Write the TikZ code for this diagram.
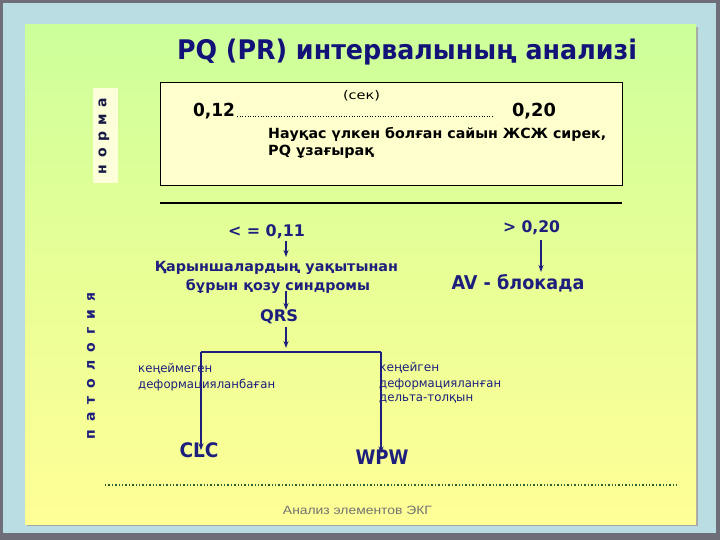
\documentclass[tikz,border=0pt]{standalone}
\usepackage{fontspec}
\usepackage{graphicx}
\setmainfont{DejaVu Sans}
\newfontfamily\arialfont{Liberation Sans}
\usetikzlibrary{arrows.meta}
\definecolor{navy}{RGB}{30,30,125}
\definecolor{titlenavy}{RGB}{18,18,120}
\definecolor{frameblue}{RGB}{186,221,228}
\definecolor{framegray}{RGB}{110,110,120}
\definecolor{greentop}{RGB}{204,255,155}
\definecolor{yellowbot}{RGB}{255,255,150}
\definecolor{boxyellow}{RGB}{255,255,206}
\definecolor{tagyellow}{RGB}{252,255,218}
\definecolor{footgreen}{RGB}{40,100,50}
\definecolor{footgray}{RGB}{115,115,115}
\newcommand\fitto[2]{\resizebox{#1}{\height}{#2}}
\newcommand\fsz[1]{\fontsize{#1}{#1}\selectfont}
\tikzset{
  txt/.style={inner sep=0pt, text=navy},
  blk/.style={inner sep=0pt, text=black},
  arr/.style={draw=navy, line width=1.6pt, -{Stealth[length=7pt,width=5pt]}},
  branch/.style={draw=navy, line width=1.6pt},
}
\begin{document}
\begin{tikzpicture}[x=1pt,y=-1pt]
\useasboundingbox (0,0) rectangle (720,540);
% outer frame
\fill[framegray] (0,0) rectangle (720,540);
\fill[frameblue] (3,3) rectangle (716,533);
\fill[gray!70] (27,27) rectangle (698,526);
\shade[top color=greentop, bottom color=yellowbot, middle color={rgb,255:red,232;green,255;blue,150}] (25,25) rectangle (696,524);

% title
\node[inner sep=0pt, text=titlenavy, font=\fsz{27}\bfseries] (title) at (407,52) {\fitto{460pt}{PQ (PR) интервалының анализі}};

% norma tag
\node[fill=tagyellow, minimum width=25pt, minimum height=95pt, inner sep=0pt] (normatag) at (105.5,135.5) {};
\node[rotate=90, inner sep=0pt, text={rgb,255:red,25;green,25;blue,70}, font=\fsz{14}\bfseries] (norma) at (104,136) {н\hspace{6.5pt}о\hspace{6.5pt}р\hspace{6.5pt}м\hspace{6.5pt}а};

% norma box
\node[draw=black, line width=0.8pt, fill=boxyellow, minimum width=462pt, minimum height=103pt, inner sep=0pt] (normbox) at (391,133.5) {};
\node[blk, font=\fsz{12}] (sek) at (361.5,96) {\fitto{37pt}{(сек)}};
\node[blk, font=\fsz{18}\bfseries] (v012) at (214,111) {\fitto{42pt}{0,12}};
\node[blk, font=\fsz{18}\bfseries] (v020) at (534,111) {\fitto{44pt}{0,20}};
\draw[black, dotted, line width=0.6pt] ([xshift=2pt,yshift=-5pt]v012.east) -- ([xshift=-19pt,yshift=-5pt]v020.west);
\node[blk, font=\fsz{14}\bfseries, anchor=west] (nauk1) at (268,134) {\fitto{338pt}{Науқас үлкен болған сайын ЖСЖ сирек,}};
\node[blk, font=\fsz{14}\bfseries, anchor=west] (nauk2) at (268,152) {\fitto{106pt}{PQ ұзағырақ}};

% separator
\draw[black, line width=2pt] (160,203) -- (622,203);

% patologia
\node[rotate=90, inner sep=0pt, text=navy, font=\fsz{14}\bfseries] (patol) at (91,366) {п\hspace{8pt}а\hspace{8pt}т\hspace{8pt}о\hspace{8pt}л\hspace{8pt}о\hspace{8pt}г\hspace{8pt}и\hspace{8pt}я};

% left chain
\node[txt, font=\fsz{16}\bfseries] (le011) at (266.5,232) {\fitto{77pt}{< = 0,11}};
\node[txt, font=\fsz{14}\bfseries] (qar1) at (276.5,268) {\fitto{243pt}{Қарыншалардың уақытынан}};
\node[txt, font=\fsz{14}\bfseries] (qar2) at (278,286) {\fitto{184pt}{бұрын қозу синдромы}};
\node[txt, font=\fsz{16}\bfseries] (qrs) at (279,317) {\fitto{38pt}{QRS}};

\coordinate (a1s) at (286,241);
\coordinate (a1e) at (286,257);
\coordinate (a2s) at (286,291);
\coordinate (a2e) at (286,310);
\coordinate (a3s) at (286,327);
\coordinate (a3e) at (286,348);
\draw[arr] (a1s) -- (a1e);
\draw[arr] (a2s) -- (a2e);
\draw[arr] (a3s) -- (a3e);

% right chain
\node[txt, font=\fsz{16}\bfseries] (gt020) at (531.5,228) {\fitto{57pt}{> 0,20}};
\node[txt, font=\fsz{19}\bfseries] (avb) at (518,283) {\fitto{133pt}{AV - блокада}};
\coordinate (a4s) at (541,240);
\coordinate (a4e) at (541,272);
\draw[arr] (a4s) -- (a4e);

% branches
\coordinate (bl) at (201,352);
\coordinate (br) at (381,352);
\draw[branch] (bl) -- (br);
\node[txt, font=\fsz{12}, anchor=west] (ken1) at (138,369) {\fitto{74pt}{кеңеймеген}};
\node[txt, font=\fsz{12}, anchor=west] (def1) at (138,385) {\fitto{137pt}{деформацияланбаған}};
\node[txt, font=\fsz{12}, anchor=west] (ken2) at (379,368) {\fitto{60pt}{кеңейген}};
\node[txt, font=\fsz{12}, anchor=west] (def2) at (379,384) {\fitto{122pt}{деформацияланған}};
\node[txt, font=\fsz{12}, anchor=west] (del2) at (379,399) {\fitto{94pt}{дельта-толқын}};
\node[txt, font=\fsz{20}\bfseries] (clc) at (199,450) {\fitto{39pt}{CLC}};
\node[txt, font=\fsz{20}\bfseries] (wpw) at (382,457) {\fitto{53pt}{WPW}};
\draw[arr] (bl) -- ([yshift=-8pt]bl |- clc.north);
\draw[arr] (br) -- ([yshift=-4pt]br |- wpw.north);

% footer
\draw[footgreen, dotted, line width=1.4pt] (105,485) -- (677,485);
\node[inner sep=0pt, text=footgray, font=\arialfont\fsz{12}] (foot) at (357.5,510) {\fitto{149pt}{Анализ элементов ЭКГ}};
\end{tikzpicture}
\end{document}
